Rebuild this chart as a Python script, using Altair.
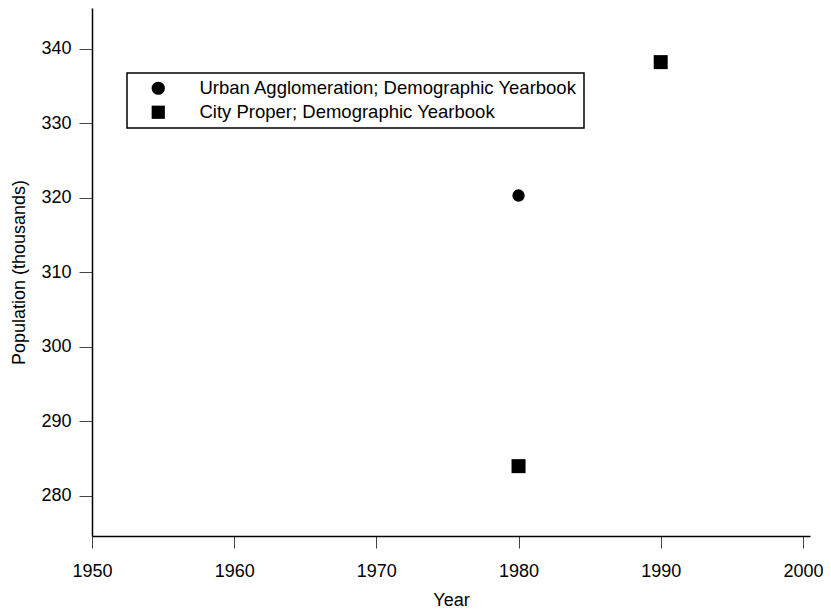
import altair as alt
import pandas as pd

series_names = ["Urban Agglomeration; Demographic Yearbook", "City Proper; Demographic Yearbook"]
urban_years = [1980]
urban_values = [320.3]
city_years = [1980, 1990]
city_values = [284.0, 338.2]

x_ticks = [1950, 1960, 1970, 1980, 1990, 2000]
y_ticks = [280, 290, 300, 310, 320, 330, 340]

rows = []
for yr, v in zip(urban_years, urban_values):
    rows.append({"Year": yr, "Population": v, "Series": series_names[0]})
for yr, v in zip(city_years, city_values):
    rows.append({"Year": yr, "Population": v, "Series": series_names[1]})
df = pd.DataFrame(rows)

FONT = "Liberation Sans"

x_enc = alt.X("Year:Q",
              scale=alt.Scale(domain=[1950, 2000.5], nice=False, zero=False),
              axis=alt.Axis(values=x_ticks, format="d", title="Year", grid=False,
                            tickSize=12, labelPadding=14, titlePadding=11, labelFlush=False))
y_enc = alt.Y("Population:Q",
              scale=alt.Scale(domain=[274.63, 345.46], nice=False, zero=False),
              axis=alt.Axis(values=y_ticks, format="d", title="Population (thousands)", grid=False,
                            tickSize=13, labelPadding=8, titlePadding=12, labelFlush=False))
shape_enc = alt.Shape("Series:N",
                      scale=alt.Scale(domain=series_names, range=["circle", "square"]),
                      legend=alt.Legend(title=None, orient="none", legendX=35, legendY=65,
                                        strokeColor="black", padding=6, symbolOffset=16,
                                        labelOffset=32, rowPadding=5, labelLimit=1000,
                                        symbolFillColor="black", symbolStrokeColor="black",
                                        symbolStrokeWidth=0, symbolSize=175))

base = alt.Chart(df)
circles = base.transform_filter(alt.datum.Series == series_names[0]).mark_point(
    filled=True, opacity=1, color="black", size=154, strokeWidth=0
).encode(x=x_enc, y=y_enc, shape=shape_enc)
squares = base.transform_filter(alt.datum.Series == series_names[1]).mark_point(
    filled=True, opacity=1, color="black", size=196, strokeWidth=0
).encode(x=x_enc, y=y_enc, shape=shape_enc)

chart = alt.layer(circles, squares).properties(
    width=718, height=528,
    autosize=alt.AutoSizeParams(type="none"),
    padding={"left": 84, "top": 0, "right": 13, "bottom": 72},
).configure_view(
    stroke=None
).configure_axis(
    labelFont=FONT, titleFont=FONT, labelFontSize=18, titleFontSize=18,
    titleFontWeight="normal", labelColor="black", titleColor="black",
    domainColor="black", domainWidth=1.5, tickColor="#444444", tickWidth=1,
).configure_legend(
    labelFont=FONT, labelFontSize=18.5, labelColor="black", strokeWidth=1.5,
)

chart.save("out.html", embed_options={"renderer": "svg", "actions": False})
